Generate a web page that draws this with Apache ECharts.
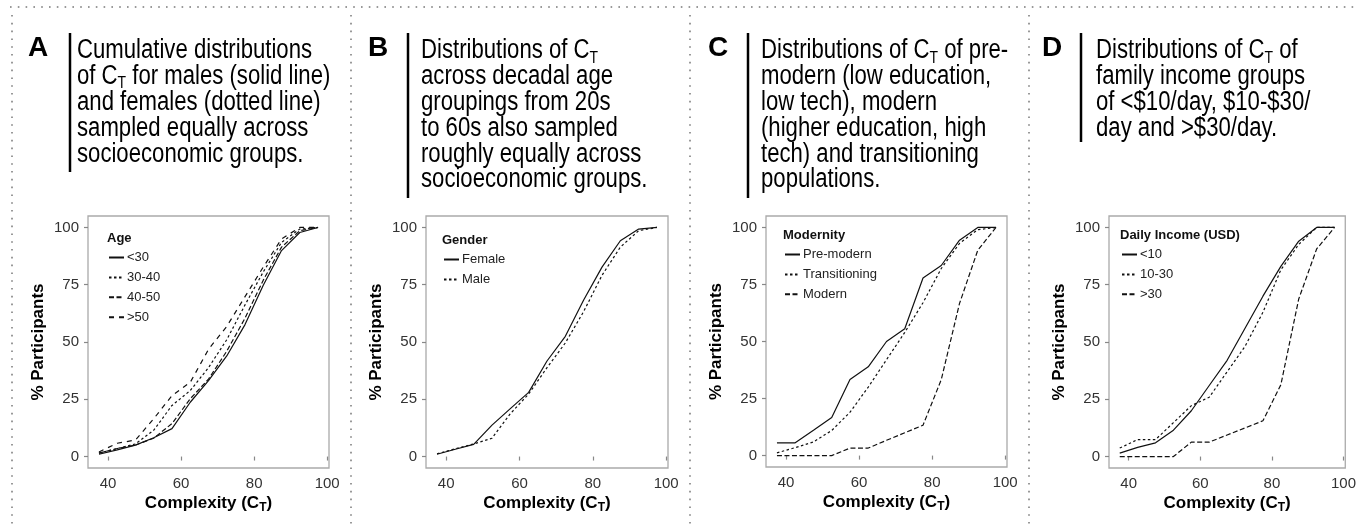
<!DOCTYPE html>
<html><head><meta charset="utf-8">
<script src="https://cdn.jsdelivr.net/npm/echarts@6/dist/echarts.min.js"></script>
<style>html,body{margin:0;padding:0;background:#fff}#c{width:1359px;height:529px}</style>
</head><body><div id="c"></div>
<script>
// ---------- data ----------
const complexity = [37.5,42.5,47.5,52.5,57.5,62.5,67.5,72.5,77.5,82.5,87.5,92.5,97.5];
const xTicks = [40,60,80,100];
const yTicks = [0,25,50,75,100];
// Panel A: age groups
const ageLt30   = [1,2.9,5,8.2,12.2,23.7,33.1,43.9,57.6,74.8,89.9,97.8,100];
const age30to40 = [1.5,3.5,5.5,11.5,22.3,28.8,38.8,51,66.2,80.6,93.5,99.3,100];
const age40to50 = [1.5,3.5,5,8,14.4,25.2,33.8,46,60.4,77,91.4,98.6,100];
const ageGt50   = [2,5.8,7.2,16.5,26.6,32.4,46.8,56.8,69.8,82.7,95,100,100];
// Panel B: gender
const female = [1,3.2,5.3,13.7,20.9,28,41.7,52.5,68.3,82.7,94.2,99.3,100];
const male   = [1.2,3.4,5.5,8,18.7,27.3,38.8,49.6,63.3,79.1,91.4,98.6,100];
// Panel C: modernity
const preModern     = [5.6,5.6,11.1,16.7,33.3,38.9,50,55.6,77.8,83.3,94.4,100,100];
const transitioning = [1.2,3.5,6,11,19,30,42,54,67,82,93,99,100];
const modern        = [0,0,0,0,3.3,3.3,6.7,10,13.3,33.3,66.7,90,100];
// Panel D: daily income
const incLt10   = [1.5,4,6,11.5,20,31,42,56,70,83,94,100,100];
const inc10to30 = [3.7,7.4,7.4,14.8,22.2,25.9,37,48.1,63,81.5,92.6,100,100];
const incGt30   = [0,0,0,0,6.3,6.3,9.4,12.5,15.6,31.3,68.8,90.6,100];

const panelSeries = [
  {title:'Age', names:['<30','30-40','40-50','>50'], values:[ageLt30,age30to40,age40to50,ageGt50]},
  {title:'Gender', names:['Female','Male'], values:[female,male]},
  {title:'Modernity', names:['Pre-modern','Transitioning','Modern'], values:[preModern,transitioning,modern]},
  {title:'Daily Income (USD)', names:['<10','10-30','>30'], values:[incLt10,inc10to30,incGt30]}
];
const headers = [
  {letter:'A', text:'Cumulative distributions\nof C{s|T} for males (solid line)\nand females (dotted line)\nsampled equally across\nsocioeconomic groups.'},
  {letter:'B', text:'Distributions of C{s|T}\nacross decadal age\ngroupings from 20s\nto 60s also sampled\nroughly equally across\nsocioeconomic groups.'},
  {letter:'C', text:'Distributions of C{s|T} of pre-\nmodern (low education,\nlow tech), modern\n(higher education, high\ntech) and transitioning\npopulations.'},
  {letter:'D', text:'Distributions of C{s|T} of\nfamily income groups\nof <$10/day, $10-$30/\nday and >$30/day.'}
];

// ---------- layout / style ----------
const layout = [
  {grid:{left:88,top:216,width:241,height:252}, letterX:28, barX:70, textX:77, barEnd:172, legX:108, legTop:251, legTitleX:107, legTitleY:238, sep:12},
  {grid:{left:426,top:216,width:242,height:252}, letterX:368, barX:408, textX:421, barEnd:198, legX:443, legTop:253, legTitleX:442, legTitleY:240, sep:351},
  {grid:{left:766,top:216,width:241,height:251}, letterX:708, barX:748, textX:761, barEnd:198, legX:784, legTop:248, legTitleX:783, legTitleY:235, sep:690},
  {grid:{left:1109,top:216,width:241,height:252}, letterX:1042, barX:1081, textX:1096, barEnd:142, legX:1121, legTop:248, legTitleX:1120, legTitleY:235, sep:1029}
];
const dashes = ['solid',[2.5,2.5],[5,2.5],[5,5]];
const FONT = '"Liberation Sans", Arial, Helvetica, sans-serif';

const grids=[], xAxes=[], yAxes=[], series=[], legends=[], graphics=[];
panelSeries.forEach((p,i)=>{
  const L = layout[i];
  grids.push(Object.assign({show:true, borderColor:'#aaaaaa', borderWidth:1.3, backgroundColor:'#fff'}, L.grid));
  xAxes.push({type:'value', gridIndex:i, min:34.5, max:100.5,
    name:'Complexity (C{s|T})', nameLocation:'middle', nameGap:25,
    nameTextStyle:{fontFamily:FONT, fontWeight:'bold', fontSize:17, color:'#000',
      rich:{s:{fontFamily:FONT, fontWeight:'bold', fontSize:12, color:'#000', padding:[9,0,0,0]}}},
    axisLine:{show:false}, splitLine:{show:false},
    axisTick:{show:true, length:4, customValues:xTicks, lineStyle:{color:'#888', width:1.2}},
    axisLabel:{customValues:xTicks, margin:8, fontFamily:FONT, fontSize:15, color:'#333'}
  });
  yAxes.push({type:'value', gridIndex:i, min:-5, max:105,
    name:'% Participants', nameLocation:'middle', nameGap:41,
    nameTextStyle:{fontFamily:FONT, fontWeight:'bold', fontSize:17, color:'#000'},
    axisLine:{show:false}, splitLine:{show:false},
    axisTick:{show:true, length:4, customValues:yTicks, lineStyle:{color:'#888', width:1.2}},
    axisLabel:{customValues:yTicks, margin:9, fontFamily:FONT, fontSize:15, color:'#333'}
  });
  p.names.forEach((n,k)=>{
    series.push({type:'line', name:n, xAxisIndex:i, yAxisIndex:i, symbol:'none', silent:true,
      lineStyle:{color:'#111', width:1.2, type:dashes[k]},
      itemStyle:{color:'#111'},
      data: complexity.map((x,j)=>[x,p.values[k][j]])});
  });
  legends.push({data:p.names, orient:'vertical', left:L.legX, top:L.legTop, padding:0,
    itemWidth:15, itemHeight:12, itemGap:6.9,
    itemStyle:{opacity:0, color:'transparent', borderColor:'transparent', borderWidth:0},
    textStyle:{fontFamily:FONT, fontSize:13, color:'#222', lineHeight:12, padding:[0,0,0,-2]}, selectedMode:false});
  graphics.push({type:'text', x:L.legTitleX, y:L.legTitleY, style:{text:p.title, font:'bold 13px '+FONT, fill:'#111', textVerticalAlign:'middle'}});
  // header
  const h = headers[i];
  graphics.push({type:'text', x:L.letterX, y:48.5, style:{text:h.letter, font:'bold 28px '+FONT, fill:'#000', textVerticalAlign:'middle'}});
  graphics.push({type:'line', shape:{x1:L.barX, y1:33, x2:L.barX, y2:L.barEnd}, style:{stroke:'#000', lineWidth:2.5}});
  graphics.push({type:'text', x:L.textX, y:38, scaleX:0.82, style:{text:h.text, fontFamily:FONT, fontSize:27, fill:'#000', lineHeight:25.8,
    textVerticalAlign:'top',
    rich:{s:{fontFamily:FONT, fontSize:17, fill:'#000', padding:[14,0,0,0], lineHeight:10}}}});
  // dotted separator
  graphics.push({type:'line', shape:{x1:L.sep, y1:15, x2:L.sep, y2:529}, style:{stroke:'#999', lineWidth:2, lineDash:[1.6,6.2]}});
});
graphics.push({type:'line', shape:{x1:10, y1:7, x2:1359, y2:7}, style:{stroke:'#999', lineWidth:2, lineDash:[1.6,6.2]}});

const chart = echarts.init(document.getElementById('c'), null, {renderer:'canvas'});
chart.setOption({
  backgroundColor:'#fff', animation:false,
  grid:grids, xAxis:xAxes, yAxis:yAxes, series:series, legend:legends, graphic:graphics
});
</script></body></html>
